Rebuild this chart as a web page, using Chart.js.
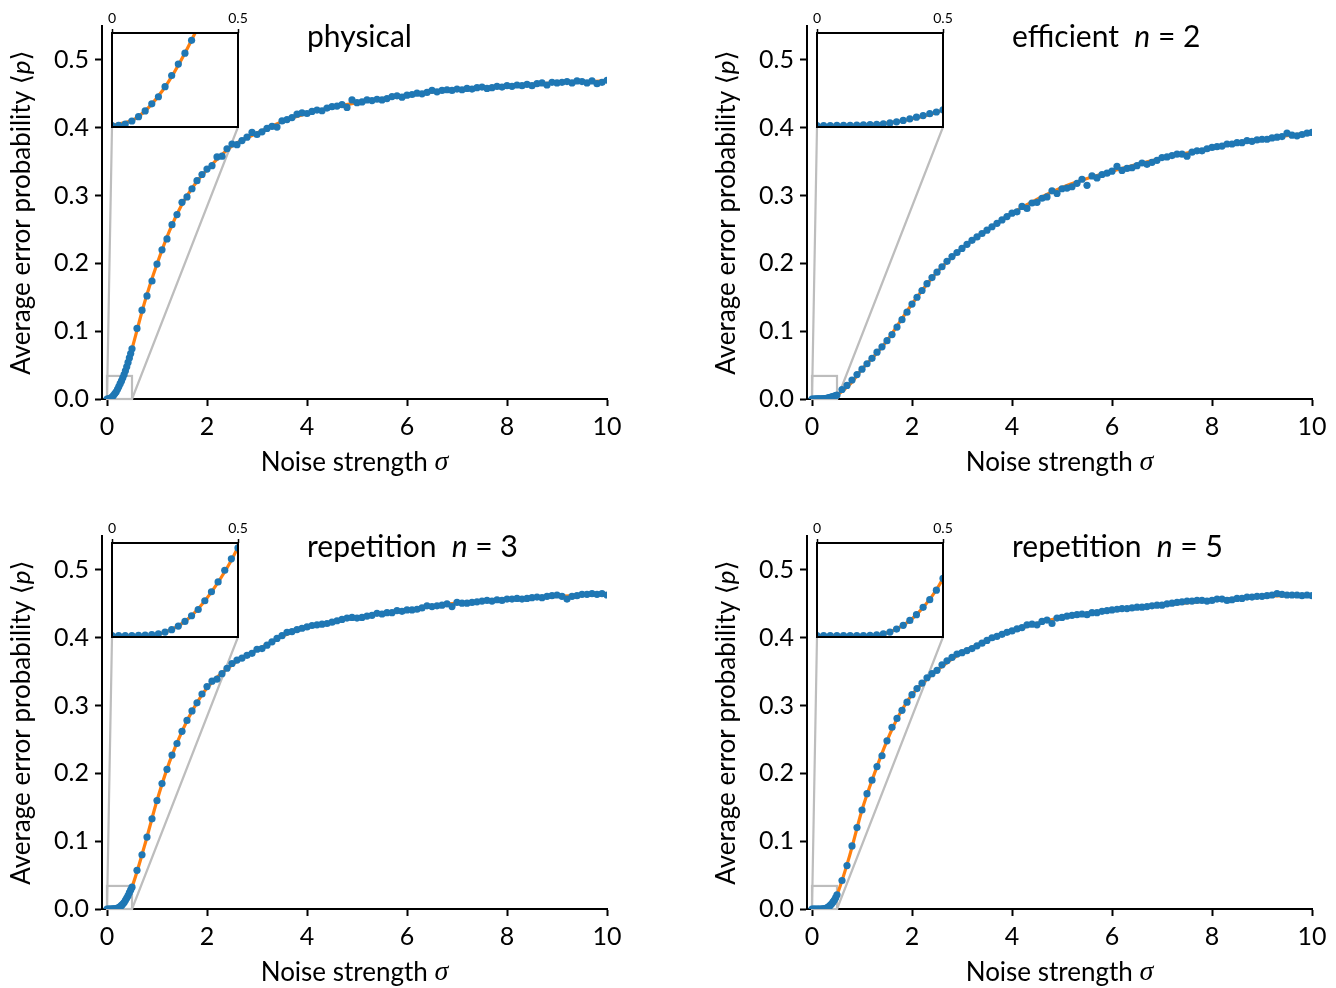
<!DOCTYPE html>
<html>
<head>
<meta charset="utf-8">
<script src="https://cdn.jsdelivr.net/npm/chart.js@4.4.0/dist/chart.umd.min.js"></script>
<style>
  body { margin: 0; background: #fff; overflow: hidden; }
  #fig { position: relative; width: 1336px; height: 988px; }
  canvas { position: absolute; }
</style>
</head>
<body>
<div id="fig"></div>
<script>
// noise strengths of the simulated points (dense grid up to 0.5, then steps of 0.1)
const sigma = [
  0, 0.0263, 0.0526, 0.0789, 0.1053, 0.1316, 0.1579, 0.1842, 0.2105, 0.2368,
  0.2632, 0.2895, 0.3158, 0.3421, 0.3684, 0.3947, 0.4211, 0.4474, 0.4737, 0.5,
  0.6, 0.7, 0.8, 0.9, 1.0, 1.1, 1.2, 1.3, 1.4, 1.5,
  1.6, 1.7, 1.8, 1.9, 2.0, 2.1, 2.2, 2.3, 2.4, 2.5,
  2.6, 2.7, 2.8, 2.9, 3.0, 3.1, 3.2, 3.3, 3.4, 3.5,
  3.6, 3.7, 3.8, 3.9, 4.0, 4.1, 4.2, 4.3, 4.4, 4.5,
  4.6, 4.7, 4.8, 4.9, 5.0, 5.1, 5.2, 5.3, 5.4, 5.5,
  5.6, 5.7, 5.8, 5.9, 6.0, 6.1, 6.2, 6.3, 6.4, 6.5,
  6.6, 6.7, 6.8, 6.9, 7.0, 7.1, 7.2, 7.3, 7.4, 7.5,
  7.6, 7.7, 7.8, 7.9, 8.0, 8.1, 8.2, 8.3, 8.4, 8.5,
  8.6, 8.7, 8.8, 8.9, 9.0, 9.1, 9.2, 9.3, 9.4, 9.5,
  9.6, 9.7, 9.8, 9.9, 10.0
];

const physical = [
  0, 0.0001, 0.0006, 0.0017, 0.0033, 0.0054, 0.008, 0.0106, 0.0143, 0.0184,
  0.0226, 0.0266, 0.0313, 0.036, 0.0415, 0.0475, 0.054, 0.0605, 0.067, 0.074,
  0.104, 0.131, 0.152, 0.174, 0.199, 0.220, 0.236, 0.257, 0.272, 0.290,
  0.298, 0.310, 0.322, 0.331, 0.339, 0.344, 0.357, 0.358, 0.369, 0.376,
  0.375, 0.381, 0.386, 0.393, 0.390, 0.394, 0.399, 0.402, 0.401, 0.410,
  0.412, 0.415, 0.420, 0.422, 0.421, 0.424, 0.426, 0.425, 0.429, 0.431,
  0.432, 0.434, 0.430, 0.441, 0.437, 0.438, 0.441, 0.440, 0.442, 0.441,
  0.443, 0.446, 0.447, 0.445, 0.448, 0.449, 0.451, 0.450, 0.452, 0.455,
  0.453, 0.455, 0.456, 0.455, 0.457, 0.456, 0.458, 0.457, 0.459, 0.460,
  0.458, 0.459, 0.461, 0.460, 0.462, 0.461, 0.463, 0.462, 0.464, 0.462,
  0.465, 0.466, 0.463, 0.467, 0.466, 0.467, 0.468, 0.466, 0.469, 0.468,
  0.466, 0.469, 0.465, 0.467, 0.470
];

const efficient2 = [
  0, 0, 0, 0.0001, 0.0001, 0.0001, 0.0002, 0.0003, 0.0004, 0.0005,
  0.0007, 0.0010, 0.0014, 0.0019, 0.0025, 0.0031, 0.0037, 0.0044, 0.0050, 0.0058,
  0.014, 0.020, 0.028, 0.036, 0.044, 0.052, 0.060, 0.069, 0.077, 0.086,
  0.095, 0.106, 0.117, 0.128, 0.140, 0.150, 0.160, 0.170, 0.179, 0.187,
  0.195, 0.203, 0.210, 0.216, 0.222, 0.228, 0.234, 0.239, 0.244, 0.249,
  0.254, 0.259, 0.264, 0.269, 0.274, 0.276, 0.284, 0.281, 0.289, 0.290,
  0.296, 0.298, 0.307, 0.303, 0.310, 0.311, 0.313, 0.318, 0.324, 0.315,
  0.329, 0.326, 0.331, 0.333, 0.336, 0.343, 0.337, 0.340, 0.341, 0.344,
  0.348, 0.346, 0.349, 0.352, 0.356, 0.357, 0.359, 0.361, 0.361, 0.358,
  0.364, 0.366, 0.366, 0.369, 0.371, 0.372, 0.373, 0.376, 0.376, 0.378,
  0.378, 0.381, 0.380, 0.382, 0.383, 0.383, 0.385, 0.386, 0.387, 0.392,
  0.389, 0.388, 0.390, 0.392, 0.393
];

const repetition3 = [
  0, 0, 0, 0, 0.0001, 0.0002, 0.0004, 0.0007, 0.0013, 0.0022,
  0.0035, 0.0052, 0.0073, 0.0096, 0.0128, 0.0161, 0.0197, 0.0240, 0.0282, 0.0322,
  0.057, 0.080, 0.106, 0.133, 0.160, 0.185, 0.206, 0.227, 0.244, 0.262,
  0.278, 0.292, 0.304, 0.317, 0.328, 0.336, 0.339, 0.347, 0.355, 0.362,
  0.367, 0.370, 0.374, 0.377, 0.383, 0.384, 0.389, 0.394, 0.399, 0.403,
  0.408, 0.409, 0.412, 0.414, 0.416, 0.418, 0.419, 0.420, 0.421, 0.423,
  0.425, 0.427, 0.429, 0.430, 0.429, 0.430, 0.432, 0.433, 0.436, 0.435,
  0.437, 0.437, 0.440, 0.439, 0.441, 0.441, 0.442, 0.444, 0.447, 0.446,
  0.447, 0.448, 0.450, 0.446, 0.452, 0.451, 0.451, 0.452, 0.453, 0.454,
  0.455, 0.454, 0.456, 0.455, 0.457, 0.457, 0.458, 0.457, 0.458, 0.459,
  0.460, 0.459, 0.461, 0.462, 0.463, 0.461, 0.457, 0.461, 0.462, 0.464,
  0.464, 0.465, 0.464, 0.465, 0.463
];

const repetition5 = [
  0, 0, 0, 0, 0, 0, 0, 0, 0.0001, 0.0003,
  0.0007, 0.0013, 0.0024, 0.0038, 0.0056, 0.0077, 0.0104, 0.0132, 0.0167, 0.0210,
  0.042, 0.064, 0.093, 0.120, 0.146, 0.170, 0.190, 0.210, 0.226, 0.248,
  0.268, 0.281, 0.293, 0.305, 0.316, 0.325, 0.333, 0.341, 0.347, 0.352,
  0.360, 0.366, 0.371, 0.376, 0.378, 0.381, 0.384, 0.388, 0.392, 0.396,
  0.400, 0.402, 0.405, 0.408, 0.410, 0.413, 0.415, 0.419, 0.420, 0.419,
  0.424, 0.426, 0.421, 0.429, 0.430, 0.432, 0.433, 0.434, 0.435, 0.434,
  0.437, 0.437, 0.439, 0.440, 0.441, 0.442, 0.443, 0.443, 0.444, 0.445,
  0.445, 0.446, 0.447, 0.448, 0.448, 0.450, 0.451, 0.452, 0.453, 0.454,
  0.454, 0.455, 0.455, 0.454, 0.455, 0.457, 0.457, 0.455, 0.456, 0.458,
  0.458, 0.460, 0.460, 0.461, 0.461, 0.462, 0.463, 0.465, 0.464, 0.463,
  0.463, 0.463, 0.462, 0.463, 0.462
];

// smooth fitted curves (orange)
const fitSigma = [0, 0.1, 0.2, 0.3, 0.4, 0.5, 0.75, 1, 1.25, 1.5, 1.75, 2, 2.5, 3, 3.5, 4, 5, 6, 7, 8, 9, 10];
const physicalFit    = [0, 0.003, 0.0128, 0.0285, 0.0486, 0.074, 0.142, 0.199, 0.248, 0.287, 0.316, 0.338, 0.373, 0.392, 0.409, 0.421, 0.437, 0.448, 0.456, 0.461, 0.466, 0.469];
const efficient2Fit  = [0, 0, 0.0003, 0.0012, 0.003, 0.0058, 0.021, 0.044, 0.064, 0.086, 0.113, 0.140, 0.187, 0.222, 0.249, 0.274, 0.312, 0.336, 0.355, 0.370, 0.383, 0.393];
const repetition3Fit = [0, 0, 0.001, 0.006, 0.0167, 0.0325, 0.093, 0.160, 0.217, 0.262, 0.298, 0.326, 0.360, 0.382, 0.402, 0.415, 0.430, 0.441, 0.451, 0.457, 0.461, 0.464];
const repetition5Fit = [0, 0, 0, 0.0018, 0.0082, 0.021, 0.078, 0.146, 0.200, 0.248, 0.287, 0.316, 0.352, 0.378, 0.396, 0.410, 0.430, 0.441, 0.448, 0.455, 0.461, 0.463];

const panelNames = ['physical', 'efficient', 'repetition', 'repetition'];
const panelN = [null, 2, 3, 5];
const panelPoints = [physical, efficient2, repetition3, repetition5];
const panelFits = [physicalFit, efficient2Fit, repetition3Fit, repetition5Fit];

const xTicks = [0, 2, 4, 6, 8, 10];
const yTicks = [0, 0.1, 0.2, 0.3, 0.4, 0.5];
const insetXTicks = [0, 0.5];
const insetRange = { x0: 0, x1: 0.5, y0: -0.0005, y1: 0.034 };

// ---- styling / layout ----
const BLUE = '#1f77b4', ORANGE = '#ff7f0e', GREY = '#bdbdbd';
const FAMILY = 'Lato, "DejaVu Sans", sans-serif';
const panelPos = [[0, 0], [705, 0], [0, 510], [705, 510]];
const W = 631, H = 478;
const insetOff = [100, 0], IW = 150, IH = 140;

Chart.defaults.font.family = FAMILY;
Chart.defaults.color = '#000';

const fig = document.getElementById('fig');
function makeCanvas(x, y, w, h) {
  const c = document.createElement('canvas');
  c.width = w; c.height = h;
  c.style.left = x + 'px'; c.style.top = y + 'px';
  c.style.width = w + 'px'; c.style.height = h + 'px';
  fig.appendChild(c);
  return c;
}

function drawRich(ctx, segs, x, y, align, rotate) {
  ctx.save();
  ctx.translate(x, y);
  if (rotate) ctx.rotate(-Math.PI / 2);
  let total = 0;
  segs.forEach(s => { ctx.font = s.font; total += ctx.measureText(s.text).width; });
  let cx = align === 'center' ? -total / 2 : 0;
  ctx.textAlign = 'left';
  ctx.textBaseline = 'middle';
  ctx.fillStyle = '#000';
  segs.forEach(s => { ctx.font = s.font; ctx.fillText(s.text, cx, 0); cx += ctx.measureText(s.text).width; });
  ctx.restore();
}

const up = sz => sz + 'px ' + FAMILY;
const it = sz => 'italic ' + sz + 'px ' + FAMILY;
const mathIt = sz => 'italic ' + sz + 'px "Liberation Serif", "DejaVu Serif", serif';

function pointsOf(xs, ys) { return xs.map((x, i) => ({ x: x, y: ys[i] })); }

function datasets(i, clip) {
  return [
    { data: pointsOf(sigma, panelPoints[i]), showLine: false, pointRadius: 3.6, pointHoverRadius: 3.6,
      pointBackgroundColor: BLUE, pointBorderWidth: 0, order: 0, clip: clip },
    { data: pointsOf(fitSigma, panelFits[i]), showLine: true, borderColor: ORANGE, borderWidth: 3.2,
      pointRadius: 0, cubicInterpolationMode: 'monotone', order: 1, clip: clip }
  ];
}

panelPos.forEach(([px, py], i) => {
  // ---- inset ----
  const ic = makeCanvas(px + insetOff[0], py + insetOff[1], IW, IH);
  const inset = new Chart(ic, {
    type: 'scatter',
    data: { datasets: datasets(i, 0) },
    options: {
      responsive: false, animation: false, devicePixelRatio: 1,
      layout: { padding: { left: 12, right: 12, top: 0, bottom: 13 } },
      plugins: { legend: { display: false }, tooltip: { enabled: false } },
      scales: {
        x: {
          type: 'linear', position: 'top', min: insetRange.x0, max: insetRange.x1,
          afterBuildTicks: s => { s.ticks = insetXTicks.map(v => ({ value: v })); },
          afterFit: s => { s.height = 33; },
          grid: { drawOnChartArea: false, drawTicks: true, tickLength: 4, tickWidth: 1.5, tickColor: '#000' },
          border: { display: false },
          ticks: { font: { size: 14 }, padding: 2, maxRotation: 0, callback: v => v === 0 ? '0' : '0.5' }
        },
        y: { type: 'linear', display: false, min: insetRange.y0, max: insetRange.y1 }
      }
    },
    plugins: [{
      id: 'insetBox',
      beforeDatasetsDraw(c) {
        const a = c.chartArea, ctx = c.ctx;
        ctx.save(); ctx.fillStyle = '#fff'; ctx.fillRect(a.left, a.top, a.width, a.height); ctx.restore();
      },
      afterDraw(c) {
        const a = c.chartArea, ctx = c.ctx;
        ctx.save(); ctx.strokeStyle = '#000'; ctx.lineWidth = 2;
        ctx.strokeRect(a.left, a.top, a.width, a.height); ctx.restore();
      }
    }]
  });

  // ---- main axes ----
  const mc = makeCanvas(px, py, W, H);
  fig.insertBefore(mc, ic);
  new Chart(mc, {
    type: 'scatter',
    data: { datasets: datasets(i) },
    options: {
      responsive: false, animation: false, devicePixelRatio: 1,
      layout: { padding: { left: 0, right: 24, top: 26, bottom: 0 } },
      plugins: { legend: { display: false }, tooltip: { enabled: false } },
      scales: {
        x: {
          type: 'linear', min: -0.1, max: 10,
          afterBuildTicks: s => { s.ticks = xTicks.map(v => ({ value: v })); },
          afterFit: s => { s.height = H - 399; },
          grid: { drawOnChartArea: false, drawTicks: true, tickLength: 7, tickWidth: 2, tickColor: '#000' },
          border: { display: true, color: '#000', width: 2 },
          ticks: { font: { size: 25 }, padding: 6, maxRotation: 0, callback: v => String(v) }
        },
        y: {
          type: 'linear', min: 0, max: 0.55,
          afterBuildTicks: s => { s.ticks = yTicks.map(v => ({ value: v })); },
          afterFit: s => { s.width = 102; },
          grid: { drawOnChartArea: false, drawTicks: true, tickLength: 7, tickWidth: 2, tickColor: '#000' },
          border: { display: true, color: '#000', width: 2 },
          ticks: { font: { size: 25 }, padding: 6, callback: v => v.toFixed(1) }
        }
      }
    },
    plugins: [{
      id: 'zoomMark',
      beforeDatasetsDraw(c) {
        const xs = c.scales.x, ys = c.scales.y, ctx = c.ctx;
        const l = xs.getPixelForValue(insetRange.x0), r = xs.getPixelForValue(insetRange.x1);
        const b = ys.getPixelForValue(Math.max(insetRange.y0, 0)), t = ys.getPixelForValue(insetRange.y1);
        const ia = inset.chartArea;
        ctx.save();
        ctx.strokeStyle = GREY; ctx.lineWidth = 2.2;
        ctx.strokeRect(l, t, r - l, b - t);
        ctx.beginPath();
        ctx.moveTo(insetOff[0] + ia.left, insetOff[1] + ia.bottom); ctx.lineTo(l, b);
        ctx.moveTo(insetOff[0] + ia.right, insetOff[1] + ia.bottom); ctx.lineTo(r, b);
        ctx.stroke();
        ctx.restore();
      },
      afterDraw(c) {
        const xs = c.scales.x, ys = c.scales.y, ctx = c.ctx, a = c.chartArea;
        // panel title
        const title = [{ text: panelNames[i], font: up(30) }];
        if (panelN[i] !== null) {
          title.push({ text: '  ', font: up(30) }, { text: 'n', font: it(30) }, { text: ' = ' + panelN[i], font: up(30) });
        }
        drawRich(ctx, title, xs.getPixelForValue(4.0), ys.getPixelForValue(0.533), 'left', false);
        // axis labels
        drawRich(ctx, [{ text: 'Noise strength ', font: up(26) }, { text: 'σ', font: mathIt(28) }],
          (a.left + a.right) / 2, 463, 'center', false);
        drawRich(ctx, [{ text: 'Average error probability ', font: up(26) }, { text: '⟨', font: up(26) },
          { text: 'p', font: it(26) }, { text: '⟩', font: up(26) }],
          22, (a.top + a.bottom) / 2, 'center', true);
      }
    }]
  });
});
</script>
</body>
</html>
